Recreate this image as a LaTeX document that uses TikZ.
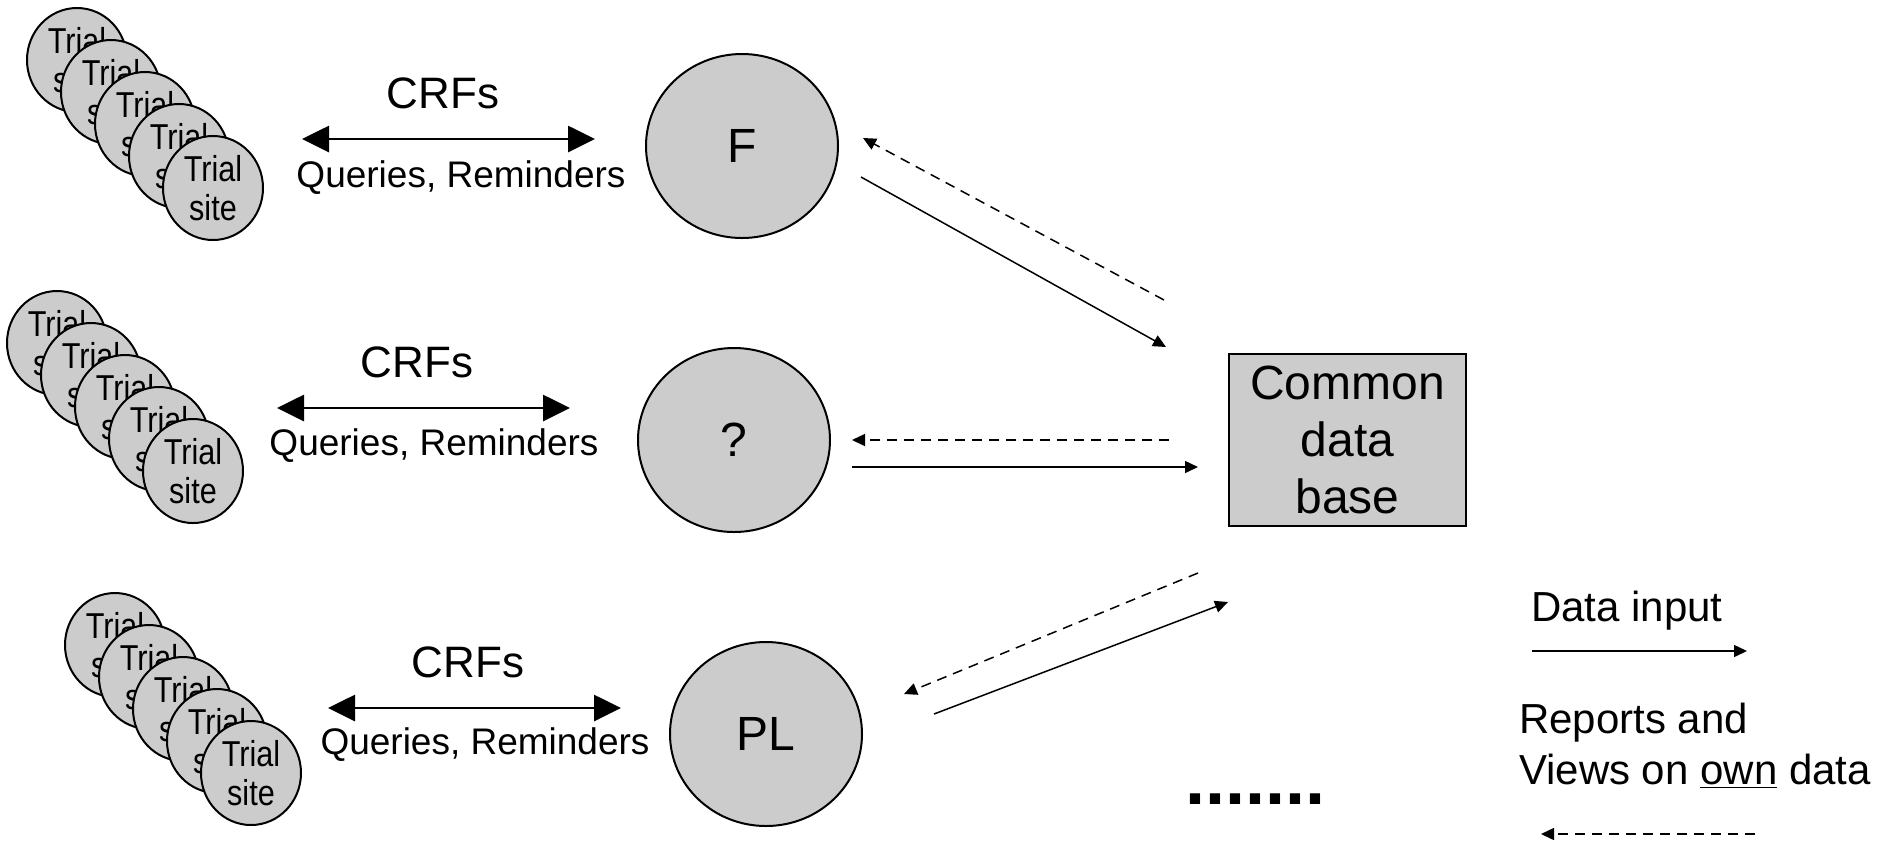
\documentclass[tikz,border=0pt]{standalone}
\usepackage{fontspec}
\setmainfont{Liberation Sans}
\newfontfamily\narrowsans[FakeStretch=0.85]{Liberation Sans}
\usetikzlibrary{arrows.meta,shapes.geometric}

\begin{document}
\begin{tikzpicture}[x=0.5pt,y=-0.5pt]

\definecolor{nodegray}{RGB}{204,204,204}

\tikzset{%
    site/.style={ellipse,draw,line width=1pt,fill=nodegray,minimum width=50pt,minimum height=52pt,inner sep=0pt},
    sitetext/.style={font=\narrowsans\fontsize{18}{19.5}\selectfont,align=center},
    centre/.style={ellipse,draw,line width=1pt,fill=nodegray,minimum width=96pt,minimum height=92pt,font=\fontsize{24}{28}\selectfont},
    dbbox/.style={rectangle,draw,line width=0.9pt,fill=nodegray,minimum width=118.5pt,minimum height=86pt,inner sep=0pt,align=center,font=\fontsize{24}{28.5}\selectfont},
    crfarrow/.style={{Triangle[length=13.5pt,width=13pt]}-{Triangle[length=13.5pt,width=13pt]},line width=1.4pt},
    datain/.style={-{Triangle[length=6.5pt,width=6pt]},line width=0.75pt},
    dataout/.style={-{Triangle[length=6.5pt,width=6pt]},line width=0.75pt,dash pattern=on 5pt off 3.5pt},
    crftext/.style={font=\fontsize{22}{26}\selectfont},
    querytext/.style={font=\fontsize{18.5}{22}\selectfont},
    legendtext/.style={font=\fontsize{21}{25.5}\selectfont,align=left},
}

%\sitestack{name}{x}{y}
\newcommand*{\sitestack}[3]{%
    \node [site, label={[sitetext]center:{Trial\\site}}] (#1a) at (#2,#3) {};
    \node [site, label={[sitetext]center:{Trial\\site}}] (#1b) at (#2+34,#3+32) {};
    \node [site, label={[sitetext]center:{Trial\\site}}] (#1c) at (#2+68,#3+64) {};
    \node [site, label={[sitetext]center:{Trial\\site}}] (#1d) at (#2+102,#3+96) {};
    \node [site, label={[sitetext]center:{Trial\\site}}] (#1e) at (#2+136,#3+128) {};
}

\useasboundingbox (0,0) rectangle (1897,843);

% trial sites
\sitestack{sitesf}{77}{60}
\sitestack{sitesq}{57}{343}
\sitestack{sitespl}{115}{645}

% centres
\node [centre] (f) at (742,146) {F};
\node [centre] (q) at (734,440) {?};
\node [centre] (pl) at (766,734) {PL};

% common data base
\node [dbbox] (db) at (1347.5,440) {Common\\data\\base};

% CRFs, queries
\coordinate (crff l) at (302,139);
\coordinate (crff r) at (595,139);
\draw [crfarrow] (crff l) -- (crff r);
\node [crftext] (crff) at (443,93) {CRFs};
\node [querytext] (queryf) at (461,178) {Queries, Reminders};

\coordinate (crfq l) at (277,408);
\coordinate (crfq r) at (570,408);
\draw [crfarrow] (crfq l) -- (crfq r);
\node [crftext] (crfq) at (417,362) {CRFs};
\node [querytext] (queryq) at (434,446) {Queries, Reminders};

\coordinate (crfpl l) at (328,708);
\coordinate (crfpl r) at (621,708);
\draw [crfarrow] (crfpl l) -- (crfpl r);
\node [crftext] (crfpl) at (468,662) {CRFs};
\node [querytext] (querypl) at (485,745) {Queries, Reminders};

% data in and out
\coordinate (inf a) at (861,177);
\coordinate (inf b) at (1166,347);
\coordinate (outf a) at (1164,300);
\coordinate (outf b) at (863,138);
\draw [datain] (inf a) -- (inf b);
\draw [dataout] (outf a) -- (outf b);

\coordinate (inq a) at (852,467);
\coordinate (inq b) at (1198,467);
\coordinate (outq a) at (1169,440);
\coordinate (outq b) at (852,440);
\draw [datain] (inq a) -- (inq b);
\draw [dataout] (outq a) -- (outq b);

\coordinate (inpl a) at (934,714);
\coordinate (inpl b) at (1228,602);
\coordinate (outpl a) at (1198,573);
\coordinate (outpl b) at (904,694);
\draw [datain] (inpl a) -- (inpl b);
\draw [dataout] (outpl a) -- (outpl b);

\node [anchor=base west, font=\bfseries\fontsize{36}{36}\selectfont] (more) at (1178,804) {.......};

% legend
\node [legendtext, anchor=west] (legin) at (1524,611) {Data input};
\coordinate (legin a) at (1532,651);
\coordinate (legin b) at (1747,651);
\draw [datain] (legin a) -- (legin b);

\node [legendtext, anchor=west] (legout) at (1512,746) {Reports and\\Views on \underline{own} data};
\coordinate (legout a) at (1755,834);
\coordinate (legout b) at (1541,834);
\draw [dataout] (legout a) -- (legout b);

\end{tikzpicture}
\end{document}
